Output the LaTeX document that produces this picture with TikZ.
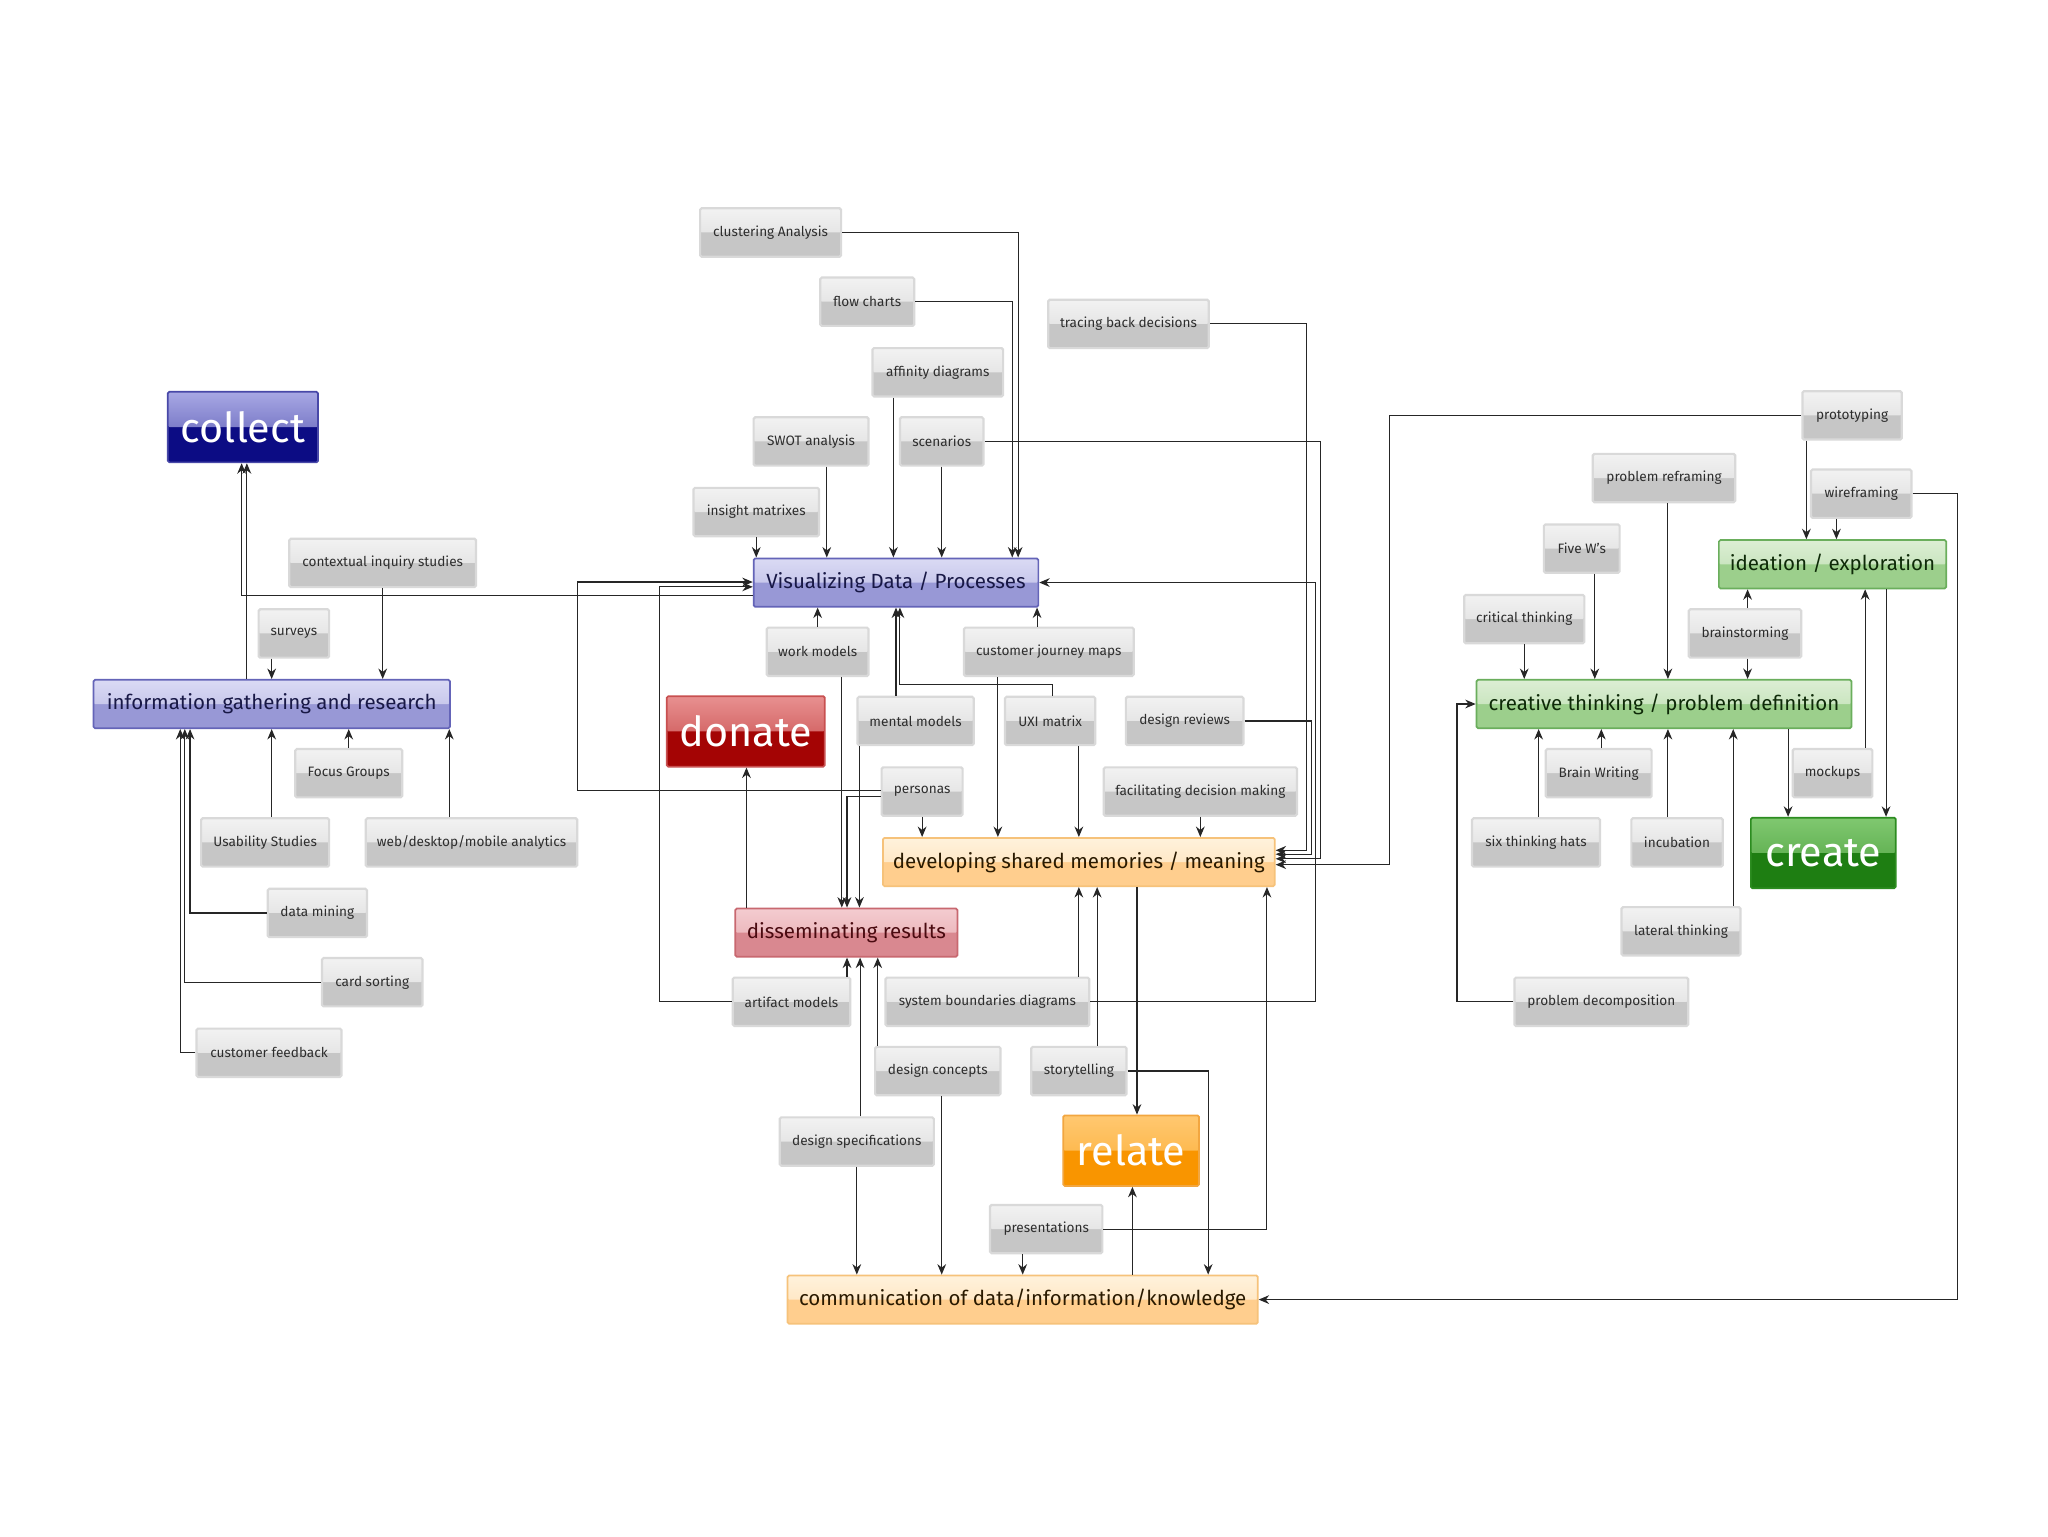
\documentclass[tikz,border=0pt]{standalone}
\usepackage{fontspec}
\setmainfont{Fira Sans}
\usetikzlibrary{arrows.meta}
\definecolor{toolTop}{RGB}{242,242,242}
\definecolor{toolBot}{RGB}{198,198,198}
\definecolor{toolEdge}{RGB}{217,217,217}
\definecolor{toolText}{RGB}{45,45,45}
\definecolor{purpTop}{RGB}{218,218,244}
\definecolor{purpBot}{RGB}{152,152,214}
\definecolor{purpEdge}{RGB}{100,100,184}
\definecolor{purpText}{RGB}{24,24,70}
\definecolor{collectTop}{RGB}{168,168,228}
\definecolor{collectBot}{RGB}{12,12,132}
\definecolor{collectEdge}{RGB}{72,72,168}
\definecolor{donateTop}{RGB}{232,144,144}
\definecolor{donateBot}{RGB}{164,4,4}
\definecolor{donateEdge}{RGB}{200,80,80}
\definecolor{dissTop}{RGB}{244,204,208}
\definecolor{dissBot}{RGB}{217,136,144}
\definecolor{dissEdge}{RGB}{200,104,112}
\definecolor{dissText}{RGB}{74,10,16}
\definecolor{devTop}{RGB}{255,242,220}
\definecolor{devBot}{RGB}{255,206,142}
\definecolor{devEdge}{RGB}{246,194,122}
\definecolor{devText}{RGB}{42,26,0}
\definecolor{relateTop}{RGB}{255,200,112}
\definecolor{relateBot}{RGB}{249,149,0}
\definecolor{relateEdge}{RGB}{242,166,64}
\definecolor{greenTop}{RGB}{220,238,212}
\definecolor{greenBot}{RGB}{156,207,140}
\definecolor{greenEdge}{RGB}{106,174,92}
\definecolor{greenText}{RGB}{14,42,8}
\definecolor{createTop}{RGB}{128,200,112}
\definecolor{createBot}{RGB}{30,126,18}
\definecolor{createEdge}{RGB}{44,140,32}
\tikzset{
  boxw/.style={minimum width=#1*0.3mm},
  gloss/.style 2 args={fill=#2, path picture={\fill[top color=#1, bottom color=#1!45!#2] (path picture bounding box.north west) rectangle (path picture bounding box.east);}},
  tool/.style={draw=toolEdge, line width=0.5mm, rounded corners=1pt, gloss={toolTop}{toolBot}, text=toolText, inner sep=0pt, minimum height=11.1mm, font=\fontsize{8.9}{10}\selectfont},
  phase/.style={draw=purpEdge, line width=0.4mm, rounded corners=1pt, gloss={purpTop}{purpBot}, text=purpText, inner sep=0pt, minimum height=11.1mm, font=\fontsize{13.4}{15}\selectfont},
  share/.style={draw=devEdge, line width=0.4mm, rounded corners=1pt, gloss={devTop}{devBot}, text=devText, inner sep=0pt, minimum height=11.1mm, font=\fontsize{13.4}{15}\selectfont},
  spread/.style={draw=dissEdge, line width=0.4mm, rounded corners=1pt, gloss={dissTop}{dissBot}, text=dissText, inner sep=0pt, minimum height=11.1mm, font=\fontsize{13.4}{15}\selectfont},
  think/.style={draw=greenEdge, line width=0.4mm, rounded corners=1pt, gloss={greenTop}{greenBot}, text=greenText, inner sep=0pt, minimum height=11.1mm, font=\fontsize{13.4}{15}\selectfont},
  verb/.style={draw=#1Edge, line width=0.4mm, rounded corners=1pt, gloss={#1Top}{#1Bot}, text=white, inner sep=0pt, minimum height=16.2mm, font=\fontsize{27}{29}\selectfont},
  arrow/.style={-{Stealth[length=2.4mm, width=2mm]}, line width=0.25mm, black!85}
}

\begin{document}
\begin{tikzpicture}[x=0.3mm, y=-0.3mm]
  \useasboundingbox[fill=white] (0,0) rectangle (1568,1176);

  % collect side
  \node[verb=collect, boxw=115] (collect) at (186,327) {collect};
  \node[phase, boxw=273] (info) at (208,539) {information gathering and research};
  \node[tool, boxw=143] (ctxinq) at (293,431) {contextual inquiry studies};
  \node[tool, boxw=54] (surveys) at (225,485) {surveys};
  \node[tool, boxw=82] (focus) at (267,592) {Focus Groups};
  \node[tool, boxw=98] (usab) at (203,645) {Usability Studies};
  \node[tool, boxw=162] (analytics) at (361,645) {web/desktop/mobile analytics};
  \node[tool, boxw=76] (datamin) at (243,699) {data mining};
  \node[tool, boxw=77] (cardsort) at (285,752) {card sorting};
  \node[tool, boxw=111] (custfb) at (206,806) {customer feedback};

  % visualizing and sharing
  \node[tool, boxw=108] (clust) at (590,178) {clustering Analysis};
  \node[tool, boxw=72] (flowch) at (664,231) {flow charts};
  \node[tool, boxw=123] (tracing) at (864,248) {tracing back decisions};
  \node[tool, boxw=100] (affinity) at (718,285) {affinity diagrams};
  \node[tool, boxw=88] (swot) at (621,338) {SWOT analysis};
  \node[tool, boxw=64] (scen) at (721,338) {scenarios};
  \node[tool, boxw=96] (insight) at (579,392) {insight matrixes};
  \node[phase, boxw=218] (vis) at (686,446) {Visualizing Data / Processes};
  \node[tool, boxw=78] (workm) at (626,499) {work models};
  \node[tool, boxw=130] (cjm) at (803,499) {customer journey maps};
  \node[verb=donate, boxw=121] (donate) at (571,560) {donate};
  \node[tool, boxw=89] (mentalm) at (701,552) {mental models};
  \node[tool, boxw=69] (uxi) at (804,552) {UXI matrix};
  \node[tool, boxw=90] (designrev) at (907,552) {design reviews};
  \node[tool, boxw=62] (personas) at (706,606) {personas};
  \node[tool, boxw=148] (facil) at (919,606) {facilitating decision making};
  \node[share, boxw=300] (develop) at (826,660) {developing shared memories / meaning};
  \node[spread, boxw=170] (dissem) at (648,714) {disseminating results};
  \node[tool, boxw=90] (artifact) at (606,767) {artifact models};
  \node[tool, boxw=156] (sysbound) at (756,767) {system boundaries diagrams};
  \node[tool, boxw=96] (dconcepts) at (718,820) {design concepts};
  \node[tool, boxw=73] (story) at (826,820) {storytelling};
  \node[tool, boxw=118] (dspecs) at (656,874) {design specifications};
  \node[verb=relate, boxw=104] (relate) at (866,881) {relate};
  \node[tool, boxw=86] (present) at (801,941) {presentations};
  \node[share, boxw=360] (comm) at (783,995) {communication of data/information/knowledge};

  % create side
  \node[tool, boxw=76] (proto) at (1418,318) {prototyping};
  \node[tool, boxw=109] (reframe) at (1274,366) {problem reframing};
  \node[tool, boxw=77] (wiref) at (1425,378) {wireframing};
  \node[tool, boxw=58] (fivew) at (1211,420) {Five W's};
  \node[think, boxw=174] (ideation) at (1403,432) {ideation / exploration};
  \node[tool, boxw=92] (critical) at (1167,474) {critical thinking};
  \node[tool, boxw=86] (brainst) at (1336,485) {brainstorming};
  \node[think, boxw=287] (creative) at (1274,539) {creative thinking / problem definition};
  \node[tool, boxw=81] (brainwr) at (1224,592) {Brain Writing};
  \node[tool, boxw=61] (mockups) at (1403,592) {mockups};
  \node[tool, boxw=98] (sixhats) at (1176,645) {six thinking hats};
  \node[tool, boxw=70] (incub) at (1284,645) {incubation};
  \node[verb=create, boxw=111] (create) at (1396,653) {create};
  \node[tool, boxw=91] (lateral) at (1287,713) {lateral thinking};
  \node[tool, boxw=133] (decomp) at (1226,767) {problem decomposition};

  % collect links
  \draw[arrow] (ctxinq) -- (ctxinq |- info.north);
  \draw[arrow] (surveys.south -| 208,0) -- (info.north -| 208,0);
  \draw[arrow] (focus) -- (focus |- info.south);
  \draw[arrow] (usab.north -| 208,0) -- (info.south -| 208,0);
  \draw[arrow] (analytics.north -| 344,0) -- (info.south -| 344,0);
  \draw[arrow] (datamin) -| (info.south -| 145.5,0);
  \draw[arrow] (cardsort) -| (info.south -| 141.5,0);
  \draw[arrow] (custfb) -| (info.south -| 138,0);
  \draw[arrow] (info.north -| 189,0) -- (collect.south -| 189,0);
  \draw[arrow] (vis.west |- 0,456) -| (collect.south -| 185,0);

  % into visualizing
  \draw[arrow] (insight) -- (insight |- vis.north);
  \draw[arrow] (swot.south -| 633,0) -- (vis.north -| 633,0);
  \draw[arrow] (affinity.south -| 684,0) -- (vis.north -| 684,0);
  \draw[arrow] (scen) -- (scen |- vis.north);
  \draw[arrow] (flowch) -| (vis.north -| 775,0);
  \draw[arrow] (clust) -| (vis.north -| 779.5,0);
  \draw[arrow] (workm) -- (workm |- vis.south);
  \draw[arrow] (cjm.north -| 794,0) -- (vis.south -| 794,0);
  \draw[arrow] (mentalm.north -| 686,0) -- (vis.south -| 686,0);
  \draw[arrow] (uxi.north -| 805.5,0) |- (689,524) -- (vis.south -| 689,0);
  \draw[arrow] (personas.west |- 0,605.5) -| (442,445.6) -- (vis.west |- 0,445.6);
  \draw[arrow] (artifact) -| (505,449.3) -- (vis.west |- 0,449.3);
  \draw[arrow] (sysbound) -| (1007.5,446) -- (vis.east);

  % into developing shared memories
  \draw[arrow] (tracing) -| (1000.5,651) -- (develop.east |- 0,651);
  \draw[arrow] (designrev) -| (1004,654) -- (develop.east |- 0,654);
  \draw[arrow] (scen) -| (1010.7,657.5) -- (develop.east |- 0,657.5);
  \draw[arrow] (proto) -| (1063.5,662) -- (develop.east |- 0,662);
  \draw[arrow] (personas) -- (personas |- develop.north);
  \draw[arrow] (cjm.south -| 764,0) -- (develop.north -| 764,0);
  \draw[arrow] (uxi.south -| 826,0) -- (develop.north -| 826,0);
  \draw[arrow] (facil) -- (facil |- develop.north);
  \draw[arrow] (sysbound.north -| 826,0) -- (develop.south -| 826,0);
  \draw[arrow] (story.north -| 840,0) -- (develop.south -| 840,0);
  \draw[arrow] (present) -| (develop.south -| 970,0);
  \draw[arrow] (develop.south -| 870.5,0) -- (relate.north -| 870.5,0);

  % disseminating and donate
  \draw[arrow] (workm.south -| 644.5,0) -- (dissem.north -| 644.5,0);
  \draw[arrow] (personas.west |- 0,609.6) -| (dissem.north -| 648.5,0);
  \draw[arrow] (mentalm.south -| 658,0) -- (dissem.north -| 658,0);
  \draw[arrow] (artifact.north -| 648.5,0) -- (dissem.south -| 648.5,0);
  \draw[arrow] (dspecs.north -| 658.5,0) -- (dissem.south -| 658.5,0);
  \draw[arrow] (dconcepts.north -| 672,0) -- (dissem.south -| 672,0);
  \draw[arrow] (dissem.north -| 571.5,0) -- (donate.south -| 571.5,0);

  % communication and relate
  \draw[arrow] (dspecs) -- (dspecs |- comm.north);
  \draw[arrow] (dconcepts.south -| 721,0) -- (comm.north -| 721,0);
  \draw[arrow] (present.south -| 783,0) -- (comm.north -| 783,0);
  \draw[arrow] (story) -| (comm.north -| 925,0);
  \draw[arrow] (comm.north -| 867,0) -- (relate.south -| 867,0);
  \draw[arrow] (wiref) -| (1498.6,995) -- (comm.east);

  % create links
  \draw[arrow] (proto.south -| 1383,0) -- (ideation.north -| 1383,0);
  \draw[arrow] (wiref.south -| 1406,0) -- (ideation.north -| 1406,0);
  \draw[arrow] (reframe.south -| 1277,0) -- (creative.north -| 1277,0);
  \draw[arrow] (fivew.south -| 1221,0) -- (creative.north -| 1221,0);
  \draw[arrow] (critical) -- (critical |- creative.north);
  \draw[arrow] (brainst.north -| 1338,0) -- (ideation.south -| 1338,0);
  \draw[arrow] (brainst.south -| 1338,0) -- (creative.north -| 1338,0);
  \draw[arrow] (decomp) -| (1115.5,539) -- (creative.west);
  \draw[arrow] (sixhats.north -| 1178,0) -- (creative.south -| 1178,0);
  \draw[arrow] (brainwr.north -| 1226,0) -- (creative.south -| 1226,0);
  \draw[arrow] (incub.north -| 1277,0) -- (creative.south -| 1277,0);
  \draw[arrow] (lateral.north -| 1327,0) -- (creative.south -| 1327,0);
  \draw[arrow] (creative.south -| 1369,0) -- (create.north -| 1369,0);
  \draw[arrow] (mockups.north -| 1428,0) -- (ideation.south -| 1428,0);
  \draw[arrow] (ideation.south -| 1444,0) -- (create.north -| 1444,0);
\end{tikzpicture}
\end{document}
